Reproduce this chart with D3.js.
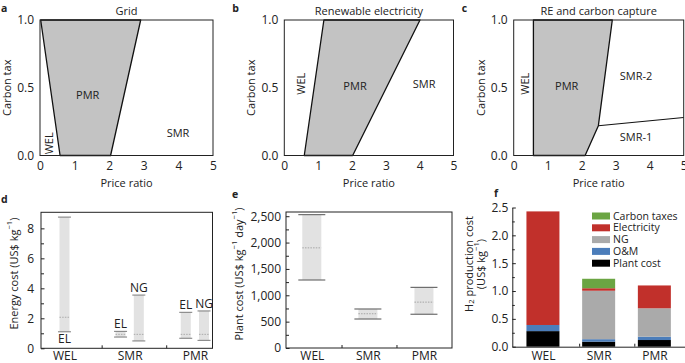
<!DOCTYPE html>
<html>
<head>
<meta charset="utf-8">
<script src="https://cdn.jsdelivr.net/npm/d3@7"></script>
<style>
  html, body { margin: 0; padding: 0; background: #fff; }
  svg { display: block; font-family: "Open Sans", "Noto Sans", sans-serif; }
  svg text { fill: #222; }
</style>
</head>
<body>
<div id="chart"></div>
<script>
// ---- top row: dominant technology maps ----
const priceTicks = [0, 1, 2, 3, 4, 5];
const taxTicks = [0, 0.5, 1];
const mapTitles = ["Grid", "Renewable electricity", "RE and carbon capture"];
const mapLetters = ["a", "b", "c"];

// PMR region outline, [price ratio, carbon tax]
const pmrGrid = [[0.02, 1], [2.91, 1], [2.04, 0], [0.58, 0]];
const pmrRenewable = [[1.17, 1], [4.01, 1], [2.02, 0], [0.59, 0]];
const pmrCapture = [[0.58, 1], [2.9, 1], [2.49, 0.22], [2.1, 0], [0.58, 0]];
// SMR-1 / SMR-2 boundary (panel c)
const smrSplit = [[2.49, 0.22], [5, 0.28]];

// region names placed at [price ratio, carbon tax]
const regionsGrid = [{ name: "WEL", p: 0.26, t: 0.09 }, { name: "PMR", p: 1.38, t: 0.45 }, { name: "SMR", p: 3.99, t: 0.17 }];
const regionsRenewable = [{ name: "WEL", p: 0.49, t: 0.53 }, { name: "PMR", p: 2.09, t: 0.52 }, { name: "SMR", p: 4.13, t: 0.53 }];
const regionsCapture = [{ name: "WEL", p: 0.33, t: 0.53 }, { name: "PMR", p: 1.56, t: 0.52 },
                        { name: "SMR-2", p: 3.6, t: 0.59 }, { name: "SMR-1", p: 3.6, t: 0.14 }];

// ---- bottom row ----
const categories = ["WEL", "SMR", "PMR"];

// d: energy cost ranges (US$ per kg)
const energyCat = ["WEL", "SMR", "SMR", "PMR", "PMR"];
const energyFuel = ["EL", "EL", "NG", "EL", "NG"];
const energyLow = [1.1, 0.75, 0.49, 0.67, 0.53];
const energyHigh = [8.75, 1.13, 3.55, 2.4, 2.49];
const energyMid = [2.07, 0.93, 0.93, 0.93, 0.93];

// e: plant cost ranges (US$ per kg per day)
const plantLow = [1290, 550, 640];
const plantHigh = [2530, 740, 1150];
const plantMid = [1900, 650, 870];

// f: H2 production cost breakdown (US$ per kg)
const costParts = ["Plant cost", "O&M", "NG", "Electricity", "Carbon taxes"];
const plantCost = [0.28, 0.09, 0.12];
const omCost = [0.11, 0.045, 0.06];
const ngCost = [0, 0.87, 0.51];
const elecCost = [2.04, 0.045, 0.41];
const carbonCost = [0, 0.17, 0];

const svg = d3.select("#chart").append("svg")
    .attr("width", 685)
    .attr("height", 363);

function styleAxis(a, size) {
    a.attr("font-size", size).attr("font-family", null).attr("color", "#222");
}

// rotated label made of pieces: [text, "sup" | "sub" | null]
function rotLabel(g, cx, cy, pieces, size) {
    const t = g.append("text")
        .attr("transform", `translate(${cx},${cy}) rotate(-90)`)
        .attr("text-anchor", "middle")
        .attr("dominant-baseline", "central")
        .attr("font-size", size);
    let shift = 0;
    pieces.forEach(([s, kind]) => {
        const want = kind === "sup" ? -4 : kind === "sub" ? 3 : 0;
        t.append("tspan")
            .attr("dy", want - shift)
            .attr("font-size", kind ? size * 0.7 : size)
            .text(s);
        shift = want;
    });
}

function letter(x, y, s) {
    svg.append("text").attr("x", x).attr("y", y)
        .attr("font-size", 10.5).attr("font-weight", "bold").text(s);
}

// ---------- top row ----------
const mapFrames = [[40, 213], [284.3, 453.5], [513.7, 683.7]];
const mapY = d3.scaleLinear().domain([0, 1]).range([155.5, 20]);

function drawMap(k, pmr, regions, split) {
    const x = d3.scaleLinear().domain([0, 5]).range(mapFrames[k]);
    const y = mapY;
    const g = svg.append("g");
    const line = d3.line().x(d => x(d[0])).y(d => y(d[1]));

    g.append("path")
        .attr("d", line(pmr) + "Z")
        .attr("fill", "#c3c3c3")
        .attr("stroke", "#111")
        .attr("stroke-width", 1.3)
        .attr("stroke-linejoin", "round");
    if (split) {
        g.append("path").attr("d", line(split))
            .attr("fill", "none").attr("stroke", "#111").attr("stroke-width", 1.1);
    }

    g.append("rect")
        .attr("x", x(0)).attr("y", y(1))
        .attr("width", x(5) - x(0)).attr("height", y(0) - y(1))
        .attr("fill", "none").attr("stroke", "#222");

    g.append("g").attr("transform", `translate(0,${y(0)})`)
        .call(d3.axisBottom(x).tickValues(priceTicks).tickFormat(d3.format("d")).tickSize(0).tickPadding(6))
        .call(a => a.select(".domain").remove())
        .call(a => styleAxis(a, 12));
    g.append("g").attr("transform", `translate(${x(0)},0)`)
        .call(d3.axisLeft(y).tickValues(taxTicks).tickFormat(d3.format(".1f")).tickSize(0).tickPadding(6))
        .call(a => a.select(".domain").remove())
        .call(a => styleAxis(a, 12));

    g.append("text")
        .attr("x", (x(0) + x(5)) / 2).attr("y", 14.5)
        .attr("text-anchor", "middle").attr("font-size", 11)
        .text(mapTitles[k]);
    g.append("text")
        .attr("x", (x(0) + x(5)) / 2).attr("y", 186.5)
        .attr("text-anchor", "middle").attr("font-size", 11)
        .text("Price ratio");
    rotLabel(g, x(0) - 34, (y(0) + y(1)) / 2, [["Carbon tax", null]], 11);

    regions.forEach(r => {
        g.append("text")
            .attr("transform", `translate(${x(r.p)},${y(r.t)})` + (r.name === "WEL" ? " rotate(-90)" : ""))
            .attr("text-anchor", "middle")
            .attr("dominant-baseline", "central")
            .attr("font-size", 11)
            .text(r.name);
    });

    letter(k === 0 ? 1 : x(0) - 52, 11.5, mapLetters[k]);
}

drawMap(0, pmrGrid, regionsGrid);
drawMap(1, pmrRenewable, regionsRenewable);
drawMap(2, pmrCapture, regionsCapture, smrSplit);

// ---------- d: energy cost ----------
{
    const x = d3.scaleLinear().domain([0.64, 3.27]).range([41, 212.5]);
    const y = d3.scaleLinear().domain([0, 9.07]).range([348.3, 212.3]);
    const g = svg.append("g");

    const pos = energyCat.map((c, i) => {
        const n = energyCat.filter(d => d === c).length;
        const j = energyCat.slice(0, i).filter(d => d === c).length;
        return categories.indexOf(c) + 1 + (j - (n - 1) / 2) * 0.28;
    });

    energyCat.forEach((c, i) => {
        const cx = x(pos[i]);
        g.append("rect")
            .attr("x", cx - 5).attr("y", y(energyHigh[i]))
            .attr("width", 10).attr("height", y(energyLow[i]) - y(energyHigh[i]))
            .attr("fill", "#e2e2e2");
        [energyHigh[i], energyLow[i]].forEach(v => {
            g.append("line")
                .attr("x1", cx - 6.5).attr("x2", cx + 6.5)
                .attr("y1", y(v)).attr("y2", y(v))
                .attr("stroke", "#7a7a7a").attr("stroke-width", 1);
        });
        g.append("line")
            .attr("x1", cx - 5).attr("x2", cx + 5)
            .attr("y1", y(energyMid[i])).attr("y2", y(energyMid[i]))
            .attr("stroke", "#aaa").attr("stroke-dasharray", "1.5,1.2");
        const above = y(energyHigh[i]) - 14 > y.range()[1];
        g.append("text")
            .attr("x", cx)
            .attr("y", above ? y(energyHigh[i]) - 3 : y(energyLow[i]) + 11)
            .attr("text-anchor", "middle").attr("font-size", 12)
            .text(energyFuel[i]);
    });

    g.append("rect")
        .attr("x", x.range()[0]).attr("y", y.range()[1])
        .attr("width", x.range()[1] - x.range()[0]).attr("height", y.range()[0] - y.range()[1])
        .attr("fill", "none").attr("stroke", "#222");

    g.append("g").attr("transform", `translate(${x.range()[0]},0)`)
        .call(d3.axisLeft(y).tickValues([0, 2, 4, 6, 8]).tickSizeInner(-3.5).tickSizeOuter(0).tickPadding(7))
        .call(a => a.select(".domain").remove())
        .call(a => styleAxis(a, 12));
    g.append("g").attr("transform", `translate(${x.range()[0]},0)`)
        .call(d3.axisLeft(y).tickValues([1, 3, 5, 7]).tickSizeInner(-3).tickSizeOuter(0).tickFormat(""))
        .call(a => a.select(".domain").remove())
        .call(a => styleAxis(a, 12));
    g.append("g").attr("transform", `translate(0,${y.range()[0]})`)
        .call(d3.axisBottom(x).tickValues([1.57, 2.56]).tickSizeInner(-3).tickSizeOuter(0).tickFormat(""))
        .call(a => a.select(".domain").remove())
        .call(a => styleAxis(a, 12));
    g.append("g").attr("transform", `translate(0,${y.range()[0]})`)
        .call(d3.axisBottom(x).tickValues([1, 2, 3]).tickFormat(i => categories[i - 1]).tickSize(0).tickPadding(3.5))
        .call(a => a.select(".domain").remove())
        .call(a => styleAxis(a, 12));

    rotLabel(g, 13.3, 273.5, [["Energy cost (US$ kg", null], ["\u22121", "sup"], [")", null]], 11);
    letter(1, 203, "d");
}

// ---------- e: plant cost ----------
{
    const x = d3.scaleLinear().domain([0.54, 3.5]).range([286, 452]);
    const y = d3.scaleLinear().domain([0, 2580]).range([348, 212]);
    const g = svg.append("g");

    categories.forEach((c, i) => {
        const cx = x(i + 1);
        g.append("rect")
            .attr("x", cx - 9.5).attr("y", y(plantHigh[i]))
            .attr("width", 19).attr("height", y(plantLow[i]) - y(plantHigh[i]))
            .attr("fill", "#e2e2e2");
        [plantHigh[i], plantLow[i]].forEach(v => {
            g.append("line")
                .attr("x1", cx - 13.5).attr("x2", cx + 13.5)
                .attr("y1", y(v)).attr("y2", y(v))
                .attr("stroke", "#6e6e6e").attr("stroke-width", 1.2);
        });
        g.append("line")
            .attr("x1", cx - 9.5).attr("x2", cx + 9.5)
            .attr("y1", y(plantMid[i])).attr("y2", y(plantMid[i]))
            .attr("stroke", "#a5a5a5").attr("stroke-dasharray", "1.5,1.2");
    });

    g.append("rect")
        .attr("x", x.range()[0]).attr("y", y.range()[1])
        .attr("width", x.range()[1] - x.range()[0]).attr("height", y.range()[0] - y.range()[1])
        .attr("fill", "none").attr("stroke", "#222");

    g.append("g").attr("transform", `translate(${x.range()[0]},0)`)
        .call(d3.axisLeft(y).tickValues(d3.range(0, 2501, 500)).tickFormat(d3.format(",")).tickSizeInner(-3.5).tickSizeOuter(0).tickPadding(5))
        .call(a => a.select(".domain").remove())
        .call(a => styleAxis(a, 12));
    g.append("g").attr("transform", `translate(${x.range()[0]},0)`)
        .call(d3.axisLeft(y).tickValues(d3.range(250, 2500, 500)).tickSizeInner(-3).tickSizeOuter(0).tickFormat(""))
        .call(a => a.select(".domain").remove())
        .call(a => styleAxis(a, 12));
    g.append("g").attr("transform", `translate(0,${y.range()[0]})`)
        .call(d3.axisBottom(x).tickValues([1.53, 2.51]).tickSizeInner(-3).tickSizeOuter(0).tickFormat(""))
        .call(a => a.select(".domain").remove())
        .call(a => styleAxis(a, 12));
    g.append("g").attr("transform", `translate(0,${y.range()[0]})`)
        .call(d3.axisBottom(x).tickValues([1, 2, 3]).tickFormat(i => categories[i - 1]).tickSize(0).tickPadding(3.5))
        .call(a => a.select(".domain").remove())
        .call(a => styleAxis(a, 12));

    rotLabel(g, 237.7, 274, [["Plant cost (US$ kg", null], ["\u22121", "sup"], [" day", null], ["\u22121", "sup"], [")", null]], 11);
    letter(232, 198, "e");
}

// ---------- f: H2 production cost ----------
{
    const x = d3.scaleLinear().domain([0.45, 3.55]).range([512.3, 685]);
    const y = d3.scaleLinear().domain([0, 2.5]).range([346.7, 207.5]);
    const color = d3.scaleOrdinal()
        .domain(costParts)
        .range(["#000000", "#4b7dba", "#aaaaaa", "#c1302b", "#6ba543"]);
    const g = svg.append("g");

    const table = categories.map((c, i) => ({
        cat: c,
        "Plant cost": plantCost[i],
        "O&M": omCost[i],
        "NG": ngCost[i],
        "Electricity": elecCost[i],
        "Carbon taxes": carbonCost[i]
    }));
    const series = d3.stack().keys(costParts)(table);

    g.append("g")
        .selectAll("g")
        .data(series)
        .join("g")
        .attr("fill", d => color(d.key))
        .selectAll("rect")
        .data(d => d)
        .join("rect")
        .attr("x", (d, i) => x(i + 1) - 16.5)
        .attr("width", 33)
        .attr("y", d => y(d[1]))
        .attr("height", d => y(d[0]) - y(d[1]));

    g.append("g").attr("transform", `translate(${x.range()[0]},0)`)
        .call(d3.axisLeft(y).tickValues(d3.range(0, 2.51, 0.5)).tickFormat(d3.format(".1f")).tickSizeInner(-3.5).tickSizeOuter(0).tickPadding(4))
        .call(a => styleAxis(a, 12));
    g.append("g").attr("transform", `translate(${x.range()[0]},0)`)
        .call(d3.axisLeft(y).tickValues(d3.range(0.25, 2.5, 0.5)).tickSizeInner(-2.5).tickSizeOuter(0).tickFormat(""))
        .call(a => a.select(".domain").remove())
        .call(a => styleAxis(a, 12));
    g.append("g").attr("transform", `translate(0,${y.range()[0]})`)
        .call(d3.axisBottom(x).tickValues([1.65, 2.64]).tickSizeInner(-3).tickSizeOuter(0).tickFormat(""))
        .call(a => styleAxis(a, 12));
    g.append("g").attr("transform", `translate(0,${y.range()[0]})`)
        .call(d3.axisBottom(x).tickValues([1, 2, 3]).tickFormat(i => categories[i - 1]).tickSize(0).tickPadding(4.5))
        .call(a => a.select(".domain").remove())
        .call(a => styleAxis(a, 12));

    // legend
    const legend = g.append("g")
        .selectAll("g")
        .data(costParts.slice().reverse())
        .join("g")
        .attr("transform", (d, i) => `translate(592,${216 + i * 11.8})`);
    legend.append("rect")
        .attr("x", 0).attr("y", -3.5)
        .attr("width", 18).attr("height", 7)
        .attr("fill", d => color(d));
    legend.append("text")
        .attr("x", 21).attr("y", 0)
        .attr("dy", "0.35em")
        .attr("font-size", 10.5)
        .text(d => d);

    rotLabel(g, 468, 264, [["H", null], ["2", "sub"], [" production cost", null]], 11);
    rotLabel(g, 480, 264, [["(US$ kg", null], ["\u22121", "sup"], [")", null]], 11);
    letter(494, 197, "f");
}
</script>
</body>
</html>
